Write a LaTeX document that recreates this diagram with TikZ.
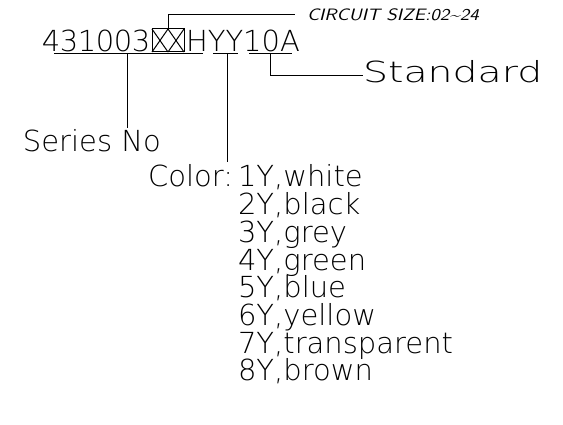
\documentclass[tikz,border=0pt]{standalone}
\usepackage{fontspec}
\newfontfamily\cadfont{DejaVu Sans}[UprightFont=* ExtraLight]
\newfontfamily\widefont{DejaVu Sans}[UprightFont=* ExtraLight, FakeStretch=1.36]
\newfontfamily\cadslant{lmsans10-oblique.otf}[FakeStretch=1.15]
\newcommand{\cell}[1]{\makebox[18pt][c]{#1}}

\begin{document}
\begin{tikzpicture}[x=1pt, y=-1pt,
  every node/.style={inner sep=0pt, outer sep=0pt},
  lbl/.style={font=\cadfont\fontsize{29}{29}\selectfont, anchor=base west},
  note/.style={font=\cadslant\fontsize{16.5}{16.5}\selectfont, anchor=west},
  lead/.style={draw=black, line width=1pt},
]

\useasboundingbox (0,0) rectangle (563,425);

% part number
\node[lbl] (code1) at (42,52) {\cell4\cell3\cell1\cell0\cell0\cell3};
\node[lead, minimum width=32pt, minimum height=23pt] (xx) at (168,40.5) {};
\draw[lead] (xx.north west) -- (xx.south) (xx.south west) -- (xx.north)
            (xx.north) -- (xx.south east) (xx.south) -- (xx.north east);
\node[lbl] (code2) at (186,52) {HYY10A};

% underlines
\coordinate (ua) at (54,54);   \coordinate (ub) at (203,54);
\coordinate (uc) at (213,54);  \coordinate (ud) at (238,54);
\coordinate (ue) at (249,54);  \coordinate (uf) at (292,54);
\draw[lead] (ua) -- (ub) (uc) -- (ud) (ue) -- (uf);

% labels
\node[note] (circ) at (307,15) {CIRCUIT SIZE:02\textasciitilde24};
\node[lbl, font=\widefont\fontsize{29}{29}\selectfont] (std) at (363,83) {Standard};
\node[lbl] (series) at (23,152) {Series No};
\node[lbl, anchor=base east] (color) at (233,187) {Color:};
\foreach \n/\c [count=\i from 0] in {1/white,2/black,3/grey,4/green,5/blue,6/yellow,7/transparent,8/brown}
  \node[lbl] (col\n) at (238,{187+27.7*\i}) {\n Y,\c};

% leaders
\draw[lead] (xx.north) |- ([xshift=-12pt]circ.west);
\draw[lead] (270,54) |- ([yshift=-3pt]std.west);
\draw[lead] (127,54) -- (127,128);
\draw[lead] (227,54) -- (227,162);

\end{tikzpicture}
\end{document}
